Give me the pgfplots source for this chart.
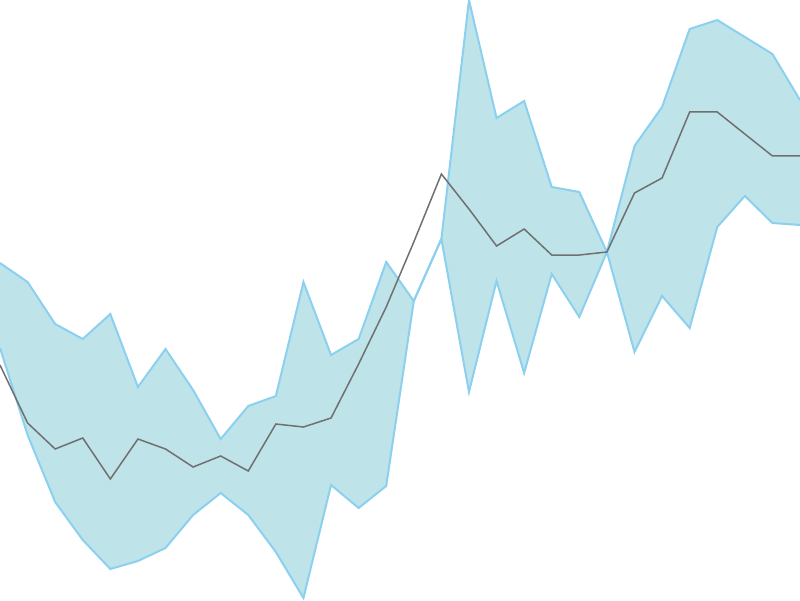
\documentclass[border=0pt]{standalone}
\usepackage{pgfplots}
\pgfplotsset{compat=1.18}
\usepgfplotslibrary{fillbetween}
\definecolor{bandfill}{RGB}{190,227,232}
\definecolor{bandedge}{RGB}{140,208,240}
\definecolor{midline}{RGB}{112,112,112}
\begin{document}
\begin{tikzpicture}
\begin{axis}[
    width=400pt, height=300pt,
    scale only axis,
    hide axis,
    xmin=0, xmax=29,
    ymin=0, ymax=600,
]
% upper edge of the band
\addplot[draw=none, name path=upper] coordinates {
(0,337)(1,318)(2,276)(3,261)(4,286)(5,213)(6,251)(7,210)(8,161)(9,194)
(10,204)(11,318)(12,245)(13,261)(14,338)(15,299)(16,361)(17,600)(18,482)(19,499)
(20,413)(21,408)(22,348)(23,454)(24,493)(25,571)(26,580)(27,563)(28,546)(29,500)
};
% lower edge of the band
\addplot[draw=none, name path=lower] coordinates {
(0,252)(1,165)(2,98)(3,60)(4,31)(5,39)(6,52)(7,85)(8,107)(9,85)
(10,48)(11,2)(12,115)(13,92)(14,114)(15,299)(16,361)(17,208)(18,319)(19,227)
(20,326)(21,283)(22,348)(23,248)(24,304)(25,272)(26,373)(27,404)(28,377)(29,375)
};
\addplot[fill=bandfill, draw=none] fill between[of=upper and lower];
\addplot[draw=bandedge, line width=1pt] coordinates {
(0,337)(1,318)(2,276)(3,261)(4,286)(5,213)(6,251)(7,210)(8,161)(9,194)
(10,204)(11,318)(12,245)(13,261)(14,338)(15,299)(16,361)(17,600)(18,482)(19,499)
(20,413)(21,408)(22,348)(23,454)(24,493)(25,571)(26,580)(27,563)(28,546)(29,500)
};
\addplot[draw=bandedge, line width=1pt] coordinates {
(0,252)(1,165)(2,98)(3,60)(4,31)(5,39)(6,52)(7,85)(8,107)(9,85)
(10,48)(11,2)(12,115)(13,92)(14,114)(15,299)(16,361)(17,208)(18,319)(19,227)
(20,326)(21,283)(22,348)(23,248)(24,304)(25,272)(26,373)(27,404)(28,377)(29,375)
};
% middle line
\addplot[draw=midline, line width=0.75pt] coordinates {
(0,235)(1,177)(2,151)(3,162)(4,121)(5,161)(6,151)(7,133)(8,144)(9,129)
(10,176)(11,173)(12,182)(13,236)(14,293)(15,358)(16,426)(17,391)(18,354)(19,371)
(20,345)(21,345)(22,348)(23,407)(24,422)(25,488)(26,488)(27,466)(28,444)(29,444)
};
\end{axis}
\end{tikzpicture}
\end{document}
